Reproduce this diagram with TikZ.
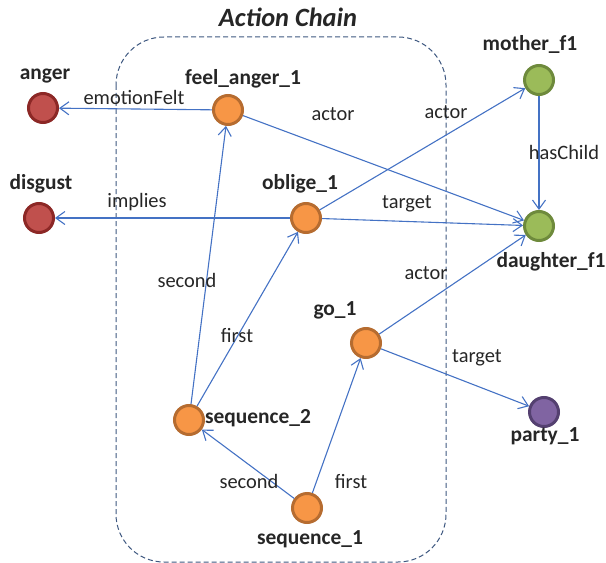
\documentclass[tikz,border=0pt]{standalone}
\usepackage{fontspec}
\setmainfont{Carlito}
\usetikzlibrary{arrows.meta}
\definecolor{edgeblue}{RGB}{68,114,196}
\definecolor{frameblue}{RGB}{62,88,128}
\definecolor{redfill}{RGB}{192,80,77}
\definecolor{redline}{RGB}{140,40,38}
\definecolor{orangefill}{RGB}{247,150,70}
\definecolor{orangeline}{RGB}{182,108,48}
\definecolor{greenfill}{RGB}{155,187,89}
\definecolor{greenline}{RGB}{110,138,60}
\definecolor{purplefill}{RGB}{128,100,162}
\definecolor{purpleline}{RGB}{84,64,112}
\tikzset{
  dot/.style={circle, inner sep=0pt, minimum size=29bp, line width=3bp},
  reddot/.style={dot, fill=redfill, draw=redline},
  orangedot/.style={dot, fill=orangefill, draw=orangeline},
  greendot/.style={dot, fill=greenfill, draw=greenline},
  purpledot/.style={dot, fill=purplefill, draw=purpleline},
  nodename/.style={font=\fontsize{21.5}{24}\selectfont\bfseries, text=black!85, inner sep=0pt},
  rel/.style={font=\fontsize{20.5}{24}\selectfont, text=black!85, inner sep=0pt},
  link/.style={draw=edgeblue, line width=1.1bp, -{Straight Barb[length=9bp, width=13bp, line width=1.1bp]}},
  chainframe/.style={draw=frameblue, line width=1bp, dash pattern=on 5bp off 3bp, rounded corners=48bp},
}
\begin{document}
\begin{tikzpicture}[x=1bp, y=-1bp]
  \useasboundingbox (0,0) rectangle (606,563);

  % dashed frame around the action chain
  \draw[chainframe] (116,37) rectangle (446,562);
  \node[font=\fontsize{26.5}{30}\selectfont\bfseries\itshape, text=black!85, inner sep=0pt] (title) at (288,17) {Action Chain};

  % entities
  \node[reddot] (anger) at (43,108) {};
  \node[reddot] (disgust) at (39,218) {};
  \node[orangedot] (feel) at (228,110) {};
  \node[orangedot] (oblige) at (306,218) {};
  \node[greendot] (mother) at (539,80) {};
  \node[greendot] (daughter) at (539,226) {};
  \node[orangedot] (go) at (366,343) {};
  \node[orangedot] (seqtwo) at (189,420) {};
  \node[orangedot] (seqone) at (307,508) {};
  \node[purpledot] (party) at (544,412) {};

  % entity names
  \node[nodename] (angername) at (45,76) {anger};
  \node[nodename] (disgustname) at (41,184) {disgust};
  \node[nodename] (feelname) at (243,79) {feel\_anger\_1};
  \node[nodename] (obligename) at (300,184) {oblige\_1};
  \node[nodename] (mothername) at (530,44) {mother\_f1};
  \node[nodename] (daughtername) at (551,262) {daughter\_f1};
  \node[nodename] (goname) at (335,310) {go\_1};
  \node[nodename] (seqtwoname) at (258,418) {sequence\_2};
  \node[nodename] (seqonename) at (310,539) {sequence\_1};
  \node[nodename] (partyname) at (545,436) {party\_1};

  % relations
  \draw[link] (feel) -- (anger);
  \draw[link] (feel) -- (daughter);
  \draw[link] (oblige) -- (disgust);
  \draw[link] (oblige) -- (mother);
  \draw[link] (oblige) -- (daughter);
  \draw[link] (mother) -- (daughter);
  \draw[link] (go) -- (daughter);
  \draw[link] (go) -- (party);
  \draw[link] (seqtwo) -- (feel);
  \draw[link] (seqtwo) -- (oblige);
  \draw[link] (seqone) -- (seqtwo);
  \draw[link] (seqone) -- (go);

  % relation labels
  \node[rel] (lemotion) at (134,97) {emotionFelt};
  \node[rel] (lactorfeel) at (333,114) {actor};
  \node[rel] (lactoroblige) at (446,112) {actor};
  \node[rel] (lhaschild) at (564,152) {hasChild};
  \node[rel] (limplies) at (137,202) {implies};
  \node[rel] (ltargetoblige) at (407,204) {target};
  \node[rel] (lsecondtwo) at (187,280) {second};
  \node[rel] (lfirsttwo) at (237,336) {first};
  \node[rel] (lactorgo) at (426,273) {actor};
  \node[rel] (ltargetgo) at (477,358) {target};
  \node[rel] (lsecondone) at (249,481) {second};
  \node[rel] (lfirstone) at (351,482) {first};
\end{tikzpicture}
\end{document}
